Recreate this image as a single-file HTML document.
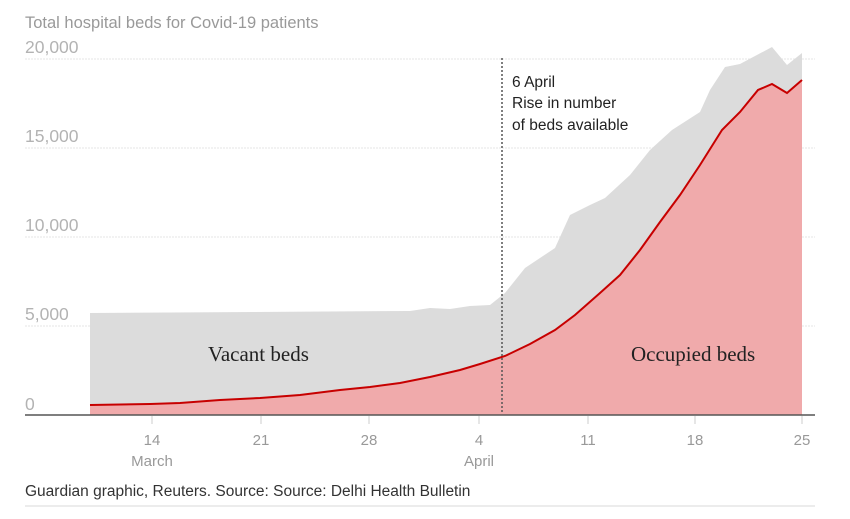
<!DOCTYPE html>
<html><head><meta charset="utf-8"><style>
body{margin:0;background:#fff;}
svg{display:block;font-family:"Liberation Sans",sans-serif;}
</style></head><body>
<svg width="850" height="519" viewBox="0 0 850 519">
<text x="25" y="28" font-size="16.5" fill="#999">Total hospital beds for Covid-19 patients</text>
<g stroke="#e6e6e6" stroke-width="1" stroke-dasharray="2,1">
<line x1="25" y1="59" x2="815" y2="59"/>
<line x1="25" y1="148" x2="815" y2="148"/>
<line x1="25" y1="237" x2="815" y2="237"/>
<line x1="25" y1="326" x2="815" y2="326"/>
</g>
<g font-size="17.5" fill="#b3b3b3">
<text x="25" y="53">20,000</text>
<text x="25" y="142">15,000</text>
<text x="25" y="231">10,000</text>
<text x="25" y="320">5,000</text>
<text x="25" y="410">0</text>
</g>
<path d="M90,415 L90,313 L410,311 L430,308 L450,309 L470,306 L490,305 L505,293 L525,268 L555,248 L570,215 L590,205 L605,198 L630,175 L650,150 L672,130 L700,112 L710,90 L725,67 L740,64 L772,47 L787,65 L802,53 L802,415 Z" fill="#dcdcdc"/>
<path d="M90,415 L90,405 L150,404 L180,403 L220,400 L260,398 L300,395 L340,390 L370,387 L400,383 L430,377 L460,370 L480,364 L505,356 L530,344 L555,330 L575,315 L600,293 L620,275 L640,250 L660,222 L680,195 L700,165 L722,130 L740,112 L758,90 L772,84 L787,93 L802,80 L802,415 Z" fill="#f0aaab"/>
<path d="M90,405 L150,404 L180,403 L220,400 L260,398 L300,395 L340,390 L370,387 L400,383 L430,377 L460,370 L480,364 L505,356 L530,344 L555,330 L575,315 L600,293 L620,275 L640,250 L660,222 L680,195 L700,165 L722,130 L740,112 L758,90 L772,84 L787,93 L802,80" fill="none" stroke="#c70000" stroke-width="2"/>
<line x1="502" y1="58" x2="502" y2="414" stroke="#555" stroke-width="1.5" stroke-dasharray="2,2"/>
<g font-size="15.5" fill="#222">
<text x="512" y="87">6 April</text>
<text x="512" y="108">Rise in number</text>
<text x="512" y="130">of beds available</text>
</g>
<text x="208" y="361" font-family="Liberation Serif,serif" font-size="21" fill="#222">Vacant beds</text>
<text x="631" y="361" font-family="Liberation Serif,serif" font-size="21" fill="#222">Occupied beds</text>
<line x1="25" y1="415" x2="815" y2="415" stroke="#555" stroke-width="1.5"/>
<g stroke="#ccc"><line x1="152" y1="416" x2="152" y2="424"/><line x1="261" y1="416" x2="261" y2="424"/><line x1="369" y1="416" x2="369" y2="424"/><line x1="479" y1="416" x2="479" y2="424"/><line x1="588" y1="416" x2="588" y2="424"/><line x1="695" y1="416" x2="695" y2="424"/><line x1="802" y1="416" x2="802" y2="424"/></g>
<g font-size="15" fill="#999" text-anchor="middle">
<text x="152" y="445">14</text><text x="261" y="445">21</text><text x="369" y="445">28</text><text x="479" y="445">4</text><text x="588" y="445">11</text><text x="695" y="445">18</text><text x="802" y="445">25</text>
<text x="152" y="466">March</text><text x="479" y="466">April</text>
</g>
<text x="25" y="496" font-size="15.5" fill="#333">Guardian graphic, Reuters. Source: Source: Delhi Health Bulletin</text>
<line x1="25" y1="506" x2="815" y2="506" stroke="#e6e6e6" stroke-width="1.5"/>
</svg>
</body></html>
